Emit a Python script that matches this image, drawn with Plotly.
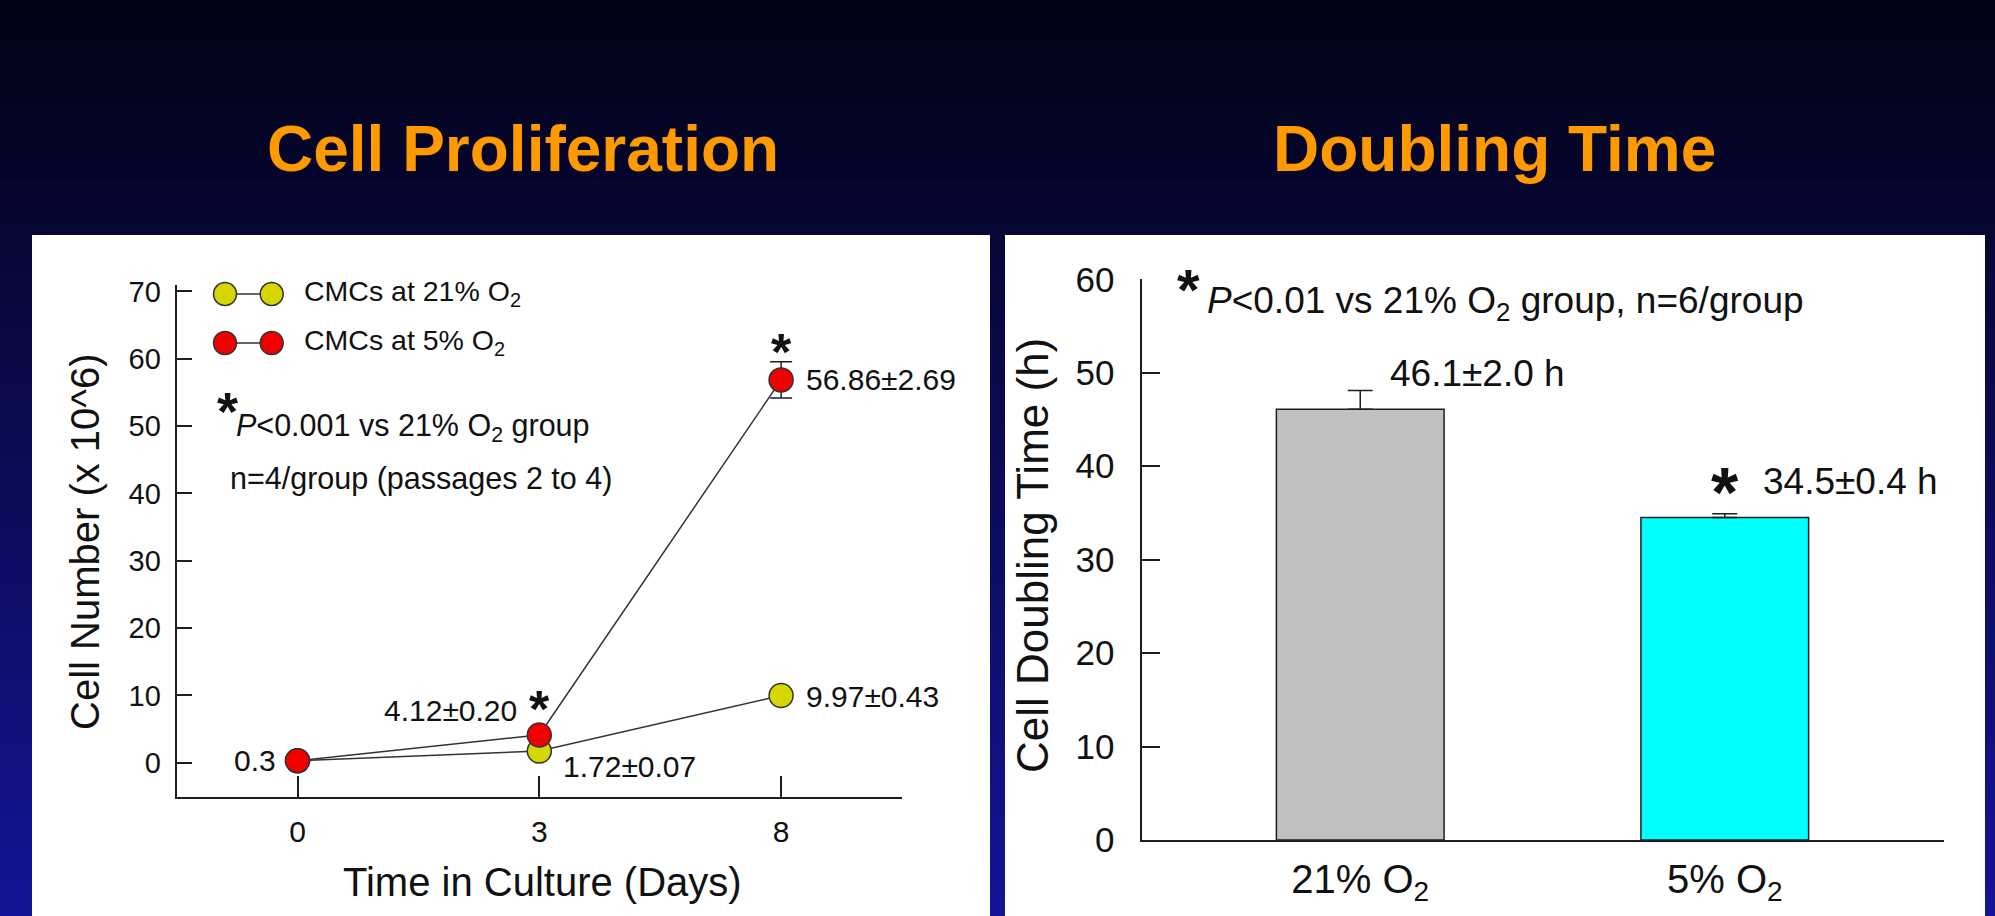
import plotly.graph_objects as go

W, H = 1995, 916
FONT = "Liberation Sans, Arial, Helvetica, sans-serif"
INK = "#1e1e1e"
LINE = "#333333"
YEL = "#D6D600"
RED = "#F00000"
GRAY = "#C0C0C0"
CYAN = "#00FFFF"
ORANGE = "#FF9900"

# ---------------- data: Cell Proliferation ----------------
days = ["0", "3", "8"]
cells_21 = [0.3, 1.72, 9.97]
sem_21 = [0.0, 0.07, 0.43]
cells_5 = [0.3, 4.12, 56.86]
sem_5 = [0.0, 0.20, 2.69]
labels_21 = ["", "1.72±0.07", "9.97±0.43"]
labels_5 = ["0.3", "4.12±0.20", "56.86±2.69"]
star_5 = [False, True, True]
cell_ticks = [0, 10, 20, 30, 40, 50, 60, 70]

# ---------------- data: Doubling Time ----------------
groups = ["21% O<sub>2</sub>", "5% O<sub>2</sub>"]
dbl_time = [46.1, 34.5]
dbl_sem = [2.0, 0.4]
dbl_labels = ["46.1±2.0 h", "34.5±0.4 h"]
dbl_star = [False, True]
dbl_ticks = [0, 10, 20, 30, 40, 50, 60]


def fx(px):
    return px / W


def fy(py):
    return 1 - py / H


fig = go.Figure()

# ---- traces ----
fig.add_trace(go.Scatter(
    x=days, y=cells_21, mode="lines+markers", xaxis="x", yaxis="y",
    line=dict(color=LINE, width=1.5),
    marker=dict(size=24, color=YEL, line=dict(color=LINE, width=1.5)),
    error_y=dict(type="data", array=sem_21, visible=True, color=INK, thickness=1.5, width=11),
    hoverinfo="skip"))
fig.add_trace(go.Scatter(
    x=days, y=cells_5, mode="lines+markers", xaxis="x", yaxis="y",
    line=dict(color=LINE, width=1.5),
    marker=dict(size=24, color=RED, line=dict(color=LINE, width=1.5)),
    error_y=dict(type="data", array=sem_5, visible=True, color=INK, thickness=1.5, width=11),
    hoverinfo="skip"))
fig.add_trace(go.Bar(
    x=groups, y=dbl_time, width=0.46, xaxis="x2", yaxis="y2",
    marker=dict(color=[GRAY, CYAN], line=dict(color=INK, width=1.5)),
    error_y=dict(type="data", array=dbl_sem, arrayminus=[0] * len(dbl_sem), symmetric=False,
                 visible=True, color=INK, thickness=1.5, width=12.5),
    hoverinfo="skip"))

# ---- background: gradient + white panels ----
shapes = []
n = 92
top = (2, 2, 20)
bot = (20, 20, 150)
for i in range(n):
    t = i / (n - 1)
    c = tuple(round(top[k] + (bot[k] - top[k]) * t) for k in range(3))
    shapes.append(dict(type="rect", xref="paper", yref="paper", x0=0, x1=1,
                       y0=max(0, 1 - (i + 1.3) / n), y1=1 - i / n,
                       fillcolor="rgb(%d,%d,%d)" % c, line=dict(width=0), layer="below"))
for x0, x1 in [(32, 990), (1005, 1985)]:
    shapes.append(dict(type="rect", xref="paper", yref="paper", x0=fx(x0), x1=fx(x1),
                       y0=0, y1=fy(235), fillcolor="white", line=dict(width=0), layer="below"))

# legend symbols (marker-line-marker)
for yc, col in [(294, YEL), (343, RED)]:
    shapes.append(dict(type="line", xref="paper", yref="paper", x0=fx(225), x1=fx(272),
                       y0=fy(yc), y1=fy(yc), line=dict(color=LINE, width=1.5)))
    for xc in (225, 271.7):
        r = 11.5
        shapes.append(dict(type="circle", xref="paper", yref="paper",
                           x0=fx(xc - r), x1=fx(xc + r), y0=fy(yc + r), y1=fy(yc - r),
                           fillcolor=col, line=dict(color=LINE, width=1.5)))

ann = []


def text(x, y, s, size, anchor="left", bold=False, color="#111", angle=0):
    ann.append(dict(xref="paper", yref="paper", x=fx(x), y=fy(y), text=s, showarrow=False,
                    xanchor=anchor, yanchor="middle", textangle=angle,
                    font=dict(family=FONT, size=size, color=color,
                              weight="bold" if bold else "normal")))


# titles
text(523, 149, "Cell Proliferation", 64, "center", True, ORANGE)
text(1494, 149, "Doubling Time", 64, "center", True, ORANGE)

# axis titles
text(85, 542, "Cell Number (x 10^6)", 40, "center", angle=-90)
text(542, 882, "Time in Culture (Days)", 40, "center")
text(1032, 556, "Cell Doubling Time (h)", 44, "center", angle=-90)

# legend / notes, left panel
text(301.7, 293, "CMCs at 21% O<sub>2</sub>", 28.5)
text(301.7, 342, "CMCs at 5% O<sub>2</sub>", 28.5)
text(227, 411, "*", 54, "center", True)
text(234, 427, "<i>P</i>&lt;0.001 vs 21% O<sub>2</sub> group", 30.5)
text(228, 478, "n=4/group (passages 2 to 4)", 30.5)

# note, right panel
text(1188, 289, "*", 58, "center", True)
text(1205, 303, "<i>P</i>&lt;0.01 vs 21% O<sub>2</sub> group, n=6/group", 37)

# value labels, left panel (x given as category index on the category axis)
off_5 = [(-20, 0, "right"), (-20, 24, "right"), (23, 0, "left")]
off_21 = [None, (22, -15, "left"), (23, -1, "left")]
star_shift_5 = [0, 26, 28]
for i, d in enumerate(days):
    if labels_5[i]:
        xs, ys, a = off_5[i]
        ann.append(dict(xref="x", yref="y", x=i, y=cells_5[i], text=labels_5[i], showarrow=False,
                        xanchor=a, yanchor="middle", xshift=xs, yshift=ys,
                        font=dict(family=FONT, size=30, color="#111")))
    if labels_21[i]:
        xs, ys, a = off_21[i]
        ann.append(dict(xref="x", yref="y", x=i, y=cells_21[i], text=labels_21[i], showarrow=False,
                        xanchor=a, yanchor="middle", xshift=xs, yshift=ys,
                        font=dict(family=FONT, size=30, color="#111")))
    if star_5[i]:
        ann.append(dict(xref="x", yref="y", x=i, y=cells_5[i], text="*", showarrow=False,
                        xanchor="center", yanchor="middle", yshift=star_shift_5[i],
                        font=dict(family=FONT, size=52, color="#111", weight="bold")))

# value labels, right panel
dbl_off = [(28, 17), (36, 32)]
for i, g in enumerate(groups):
    xs, ys = dbl_off[i]
    ann.append(dict(xref="x2", yref="y2", x=i, y=dbl_time[i] + dbl_sem[i], text=dbl_labels[i],
                    showarrow=False, xanchor="left", yanchor="middle", xshift=xs, yshift=ys,
                    font=dict(family=FONT, size=37, color="#111")))
    if dbl_star[i]:
        ann.append(dict(xref="x2", yref="y2", x=i, y=dbl_time[i] + dbl_sem[i], text="*",
                        showarrow=False, xanchor="center", yanchor="middle", yshift=21,
                        font=dict(family=FONT, size=70, color="#111", weight="bold")))

axis_common = dict(showline=True, linecolor=INK, linewidth=2, showgrid=False, zeroline=False,
                   tickcolor=INK, tickwidth=2, ticks="inside", automargin=False)

fig.update_layout(
    width=W, height=H,
    margin=dict(l=0, r=0, t=0, b=0, pad=0, autoexpand=False),
    paper_bgcolor="#000018", plot_bgcolor="rgba(0,0,0,0)", showlegend=False,
    font=dict(family=FONT, color="#111"),
    shapes=shapes, annotations=ann,
    xaxis=dict(domain=[fx(176.6), fx(902)], anchor="y", type="category", range=[-0.5, 2.5],
               ticklen=21, tickfont=dict(size=30, color="#111"), ticklabelstandoff=7,
               **axis_common),
    yaxis=dict(domain=[fy(797), fy(284.7)], anchor="x", range=[-5.1, 71], tickvals=cell_ticks,
               ticklen=15, tickfont=dict(size=29, color="#111"), ticklabelstandoff=8,
               **axis_common),
    xaxis2=dict(domain=[fx(1141.5), fx(1943.5)], anchor="y2", type="category", range=[-0.6, 1.6],
                tickfont=dict(size=40, color="#111"), ticklabelstandoff=3, automargin=False,
                showline=True, linecolor=INK, linewidth=2, showgrid=False, zeroline=False, ticks=""),
    yaxis2=dict(domain=[fy(840), fy(279.3)], anchor="x2", range=[0, 60], tickvals=dbl_ticks,
                ticklen=18, tickfont=dict(size=35, color="#111"), ticklabelstandoff=18,
                **axis_common),
)

fig.write_html(
    "out.html",
    config={"displayModeBar": False},
    post_script="document.body.style.margin='0px';document.body.style.overflow='hidden';",
)
